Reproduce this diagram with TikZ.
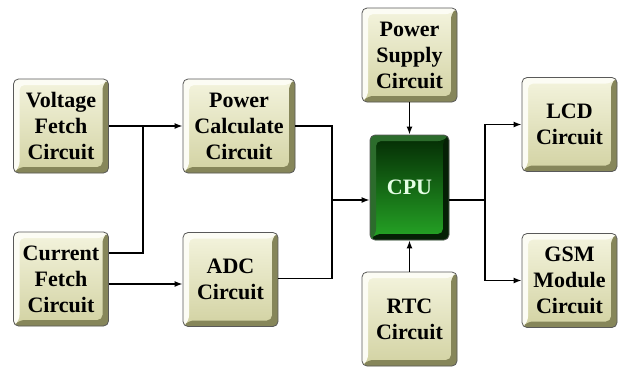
\documentclass[tikz,border=0pt]{standalone}
\usepackage{fontspec}
\setmainfont{Liberation Serif}
\usetikzlibrary{arrows.meta}

\definecolor{facehi}{HTML}{F4F4DE}
\definecolor{facelo}{HTML}{D2D2A2}
\definecolor{bevhi}{HTML}{FCFCF4}
\definecolor{bevlo}{HTML}{86865A}
\definecolor{cpuhi}{HTML}{042A04}
\definecolor{cpulo}{HTML}{26A626}
\definecolor{cpubevhi}{HTML}{2C6C2C}
\definecolor{cpubevlo}{HTML}{052005}

\newcommand{\boxbevel}[3]{%
	\fill[#2] (path picture bounding box.south west) -- (path picture bounding box.north west) -- (path picture bounding box.north east) -- ([shift={(-#1,-#1)}]path picture bounding box.north east) -- ([shift={(#1,-#1)}]path picture bounding box.north west) -- ([shift={(#1,#1)}]path picture bounding box.south west) -- cycle;
	\fill[#3] (path picture bounding box.south west) -- (path picture bounding box.south east) -- (path picture bounding box.north east) -- ([shift={(-#1,-#1)}]path picture bounding box.north east) -- ([shift={(-#1,#1)}]path picture bounding box.south east) -- ([shift={(#1,#1)}]path picture bounding box.south west) -- cycle;
}

\tikzset{
	block/.style={draw=black!65,line width=0.8pt,rounded corners=5pt,top color=facehi,bottom color=facelo,
		minimum width=95pt,minimum height=94pt,inner sep=0pt,align=center,text=black,
		font=\bfseries\fontsize{22}{26}\selectfont,
		path picture={\boxbevel{6pt}{bevhi}{bevlo}}},
	cpubox/.style={block,top color=cpuhi,bottom color=cpulo,minimum width=79pt,minimum height=105pt,text=white!90!green,
		path picture={\boxbevel{6pt}{cpubevhi}{cpubevlo}}},
	wire/.style={line width=1.5pt},
	>={Latex[length=8pt,width=6pt]}
}

\begin{document}
\begin{tikzpicture}[x=1pt,y=-1pt]
	\useasboundingbox (0,0) rectangle (619,368);
	\node[block] (volt) at (61,126) {Voltage\\Fetch\\Circuit};
	\node[block] (curr) at (61,279) {Current\\Fetch\\Circuit};
	\node[block,minimum width=112pt] (calc) at (239,126) {Power\\Calculate\\Circuit};
	\node[block] (adc) at (230.5,279.5) {ADC\\Circuit};
	\node[cpubox] (cpu) at (409.5,187.5) {CPU};
	\node[block] (psu) at (409.5,55) {Power\\Supply\\Circuit};
	\node[block] (rtc) at (409.5,319) {RTC\\Circuit};
	\node[block] (lcd) at (569.5,124.5) {LCD\\Circuit};
	\node[block] (gsm) at (569.5,280.5) {GSM\\Module\\Circuit};
	\coordinate (jv) at (143,126);
	\coordinate (jc) at (332,200);
	\coordinate (jo) at (485,200);
	\draw[wire,->] (volt.east) -- (calc.west);
	\draw[wire] ([yshift=26pt]curr.east) -| (jv);
	\draw[wire,->] ([yshift=-5pt]curr.east) -- ([yshift=-5pt]curr.east -| adc.west);
	\draw[wire] (calc.east) -| (jc);
	\draw[wire] ([yshift=1pt]adc.east) -| (jc);
	\draw[wire,->] (jc) -- (jc -| cpu.west);
	\draw[wire,->] (psu.south) -- (cpu.north);
	\draw[wire,->] (rtc.north) -- (cpu.south);
	\draw[wire] (jc -| cpu.east) -- (jo);
	\draw[wire,->] (jo) |- (lcd.west);
	\draw[wire,->] (jo) |- (gsm.west);
\end{tikzpicture}
\end{document}
